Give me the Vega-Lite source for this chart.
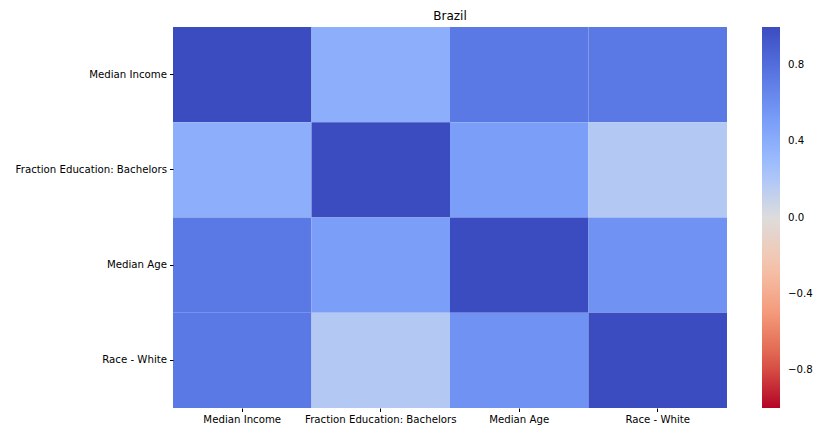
{
  "$schema": "https://vega.github.io/schema/vega-lite/v6.json",
  "autosize": "none",
  "width": 554,
  "height": 381,
  "padding": {"left": 173, "top": 27, "right": 90, "bottom": 22},
  "background": "white",
  "title": {"text": "Brazil", "font": "DejaVu Sans", "fontSize": 12, "fontWeight": "normal", "color": "black", "offset": 4},
  "data": {"values": [
    {"row": "Median Income", "col": "Median Income", "value": 1.0},
    {"row": "Median Income", "col": "Fraction Education: Bachelors", "value": 0.39},
    {"row": "Median Income", "col": "Median Age", "value": 0.74},
    {"row": "Median Income", "col": "Race - White", "value": 0.74},
    {"row": "Fraction Education: Bachelors", "col": "Median Income", "value": 0.39},
    {"row": "Fraction Education: Bachelors", "col": "Fraction Education: Bachelors", "value": 1.0},
    {"row": "Fraction Education: Bachelors", "col": "Median Age", "value": 0.5},
    {"row": "Fraction Education: Bachelors", "col": "Race - White", "value": 0.18},
    {"row": "Median Age", "col": "Median Income", "value": 0.74},
    {"row": "Median Age", "col": "Fraction Education: Bachelors", "value": 0.5},
    {"row": "Median Age", "col": "Median Age", "value": 1.0},
    {"row": "Median Age", "col": "Race - White", "value": 0.58},
    {"row": "Race - White", "col": "Median Income", "value": 0.74},
    {"row": "Race - White", "col": "Fraction Education: Bachelors", "value": 0.18},
    {"row": "Race - White", "col": "Median Age", "value": 0.58},
    {"row": "Race - White", "col": "Race - White", "value": 1.0}
  ]},
  "mark": {"type": "rect", "strokeWidth": 0},
  "encoding": {
    "x": {
      "field": "col", "type": "nominal",
      "sort": ["Median Income", "Fraction Education: Bachelors", "Median Age", "Race - White"],
      "scale": {"paddingInner": 0, "paddingOuter": 0},
      "axis": {"title": null, "labelAngle": 0, "domain": false, "tickSize": 3.5, "tickColor": "black", "labelPadding": 3, "labelFont": "DejaVu Sans", "labelFontSize": 10.2, "labelColor": "black"}
    },
    "y": {
      "field": "row", "type": "nominal",
      "sort": ["Median Income", "Fraction Education: Bachelors", "Median Age", "Race - White"],
      "scale": {"paddingInner": 0, "paddingOuter": 0},
      "axis": {"title": null, "domain": false, "tickSize": 3.5, "tickColor": "black", "labelPadding": 3, "labelFont": "DejaVu Sans", "labelFontSize": 10.2, "labelColor": "black"}
    },
    "color": {
      "field": "value", "type": "quantitative",
      "scale": {
        "domain": [-1, -0.75, -0.5, -0.25, 0, 0.25, 0.5, 0.75, 1],
        "range": ["#b40426", "#dd5e4c", "#f49a7b", "#f5c4ad", "#dddcdc", "#a3c2fe", "#7b9ff9", "#5977e3", "#3b4cc0"],
        "interpolate": "rgb"
      },
      "legend": {
        "title": null,
        "orient": "none",
        "legendX": 589,
        "legendY": 0,
        "direction": "vertical",
        "gradientLength": 381,
        "gradientThickness": 18,
        "gradientStrokeWidth": 0,
        "values": [-0.8, -0.4, 0, 0.4, 0.8],
        "labelExpr": "replace(format(datum.value, '.1f'), '-', '\u2212')",
        "labelFont": "DejaVu Sans",
        "labelFontSize": 10.2,
        "labelColor": "black",
        "labelOffset": 8,
        "labelOverlap": false
      }
    }
  },
  "config": {"view": {"stroke": null}}
}
